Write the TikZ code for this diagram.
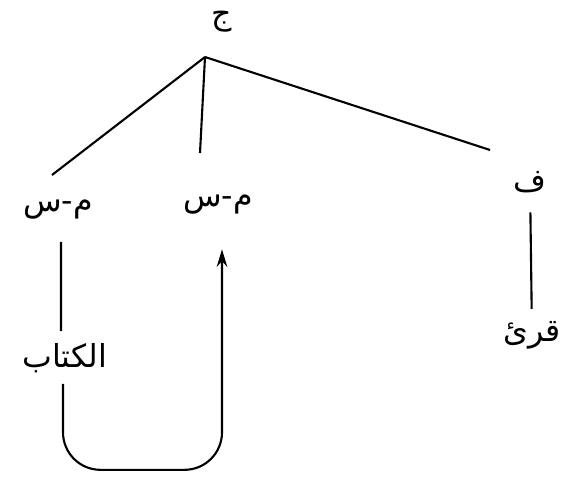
\documentclass[tikz,border=0pt]{standalone}
\usepackage{fontspec}
\newfontfamily\arabicfont[Script=Arabic]{DejaVu Sans}
\TeXXeTstate=1
\usetikzlibrary{
	arrows.meta,
	positioning,
	calc
}
\newcommand{\artxt}[1]{\arabicfont\beginR #1\endR}

\begin{document}
\begin{tikzpicture}[
					arabic/.style={
					inner sep=1pt,
					font=\arabicfont\fontsize{18}{20}\selectfont
				},
				edge/.style={line width=1.2pt},
				arrow/.style={-{Stealth[length=10pt,width=6pt]}, line width=1.2pt, rounded corners=0.75cm},
				]
				\useasboundingbox (0,0) rectangle (11.3,9.52);
				
				%top
				\node[arabic] (root) at (4.44,9.08) {\artxt{ج}};
				\coordinate (apex) at (4.10,8.38);
				
				%first row
				\node[arabic] (ms1) at (1.16,5.32) {\artxt{م-س}};
				\node[arabic] (ms2) at (4.36,5.43) {\artxt{م-س}};
				\node[arabic] (fa) at (10.6,5.88) {\artxt{ف}};
				\coordinate (ms1top) at (1.04,6.02);
				\coordinate (ms2top) at (4.00,6.46);
				\coordinate (fatop) at (9.80,6.52);
				\draw[edge] (apex) -- (ms1top);
				\draw[edge] (apex) -- (ms2top);
				\draw[edge] (apex) -- (fatop);
				
				%second row
				\node[arabic] (kitab) at (1.30,2.36) {\artxt{الكتاب}};
				\node[arabic] (qara) at (10.64,2.82) {\artxt{قرئ}};
				\draw[edge] ([xshift=0.06cm, yshift=-0.4cm]ms1.south) -- ([xshift=-0.08cm, yshift=0.2cm]kitab.north);
				\draw[edge, shorten <=0.35cm, shorten >=0.2cm] (fa) -- (qara);
				
				%movement
				\draw[arrow] ([xshift=-0.04cm, yshift=-0.18cm]kitab.south) -- ++(0,-1.72) -| ([xshift=0.08cm, yshift=-0.66cm]ms2.south);
			\end{tikzpicture}
\end{document}
